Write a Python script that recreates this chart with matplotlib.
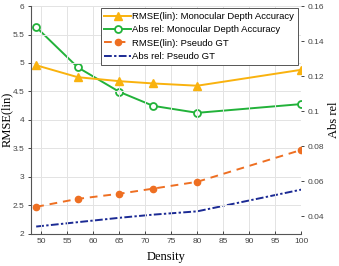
import numpy as np
import matplotlib.pyplot as plt

# Density values (x axis)
density = [49, 57, 65, 71.5, 80, 100]

# Monocular depth accuracy
rmse_mono = [4.96, 4.75, 4.68, 4.64, 4.60, 4.88]
absrel_mono = [0.148, 0.125, 0.111, 0.103, 0.099, 0.104]

# Pseudo GT
rmse_pgt = [2.47, 2.61, 2.70, 2.79, 2.91, 3.47]
absrel_pgt = [0.034, 0.0365, 0.039, 0.0408, 0.0427, 0.0551]

labels = ["RMSE(lin): Monocular Depth Accuracy", "Abs rel: Monocular Depth Accuracy",
          "RMSE(lin): Pseudo GT", "Abs rel: Pseudo GT"]

c_tri = '#F9B20E'
c_green = '#22B23A'
c_orange = '#EE6F22'
c_navy = '#1B2A94'
tick_col = '#444444'

plt.rcParams['font.family'] = 'Liberation Sans'

fig = plt.figure(figsize=(3.39, 2.66), dpi=100)
ax = fig.add_axes([0.0914, 0.122, 0.797, 0.855])
ax2 = ax.twinx()

l1, = ax.plot(density, rmse_mono, '-^', color=c_tri, lw=1.4, ms=6, label=labels[0])
l2, = ax2.plot(density, absrel_mono, '-o', color=c_green, lw=1.4, ms=5,
               mfc='white', mew=1.3, label=labels[1])
l3, = ax.plot(density, rmse_pgt, '--o', color=c_orange, lw=1.4, ms=4.5,
              dashes=(4, 3), label=labels[2])
l4, = ax2.plot(density, absrel_pgt, '-.', color=c_navy, lw=1.4,
               dashes=(4, 1.2, 1.2, 1.2), label=labels[3])

ax.set_xlim(48, 100)
ax.set_ylim(2, 6)
ax2.set_ylim(0.03, 0.16)
ax.set_xticks(np.arange(50, 101, 5))
ax.set_yticks(np.arange(2, 6.01, 0.5))
ax.set_yticklabels(['2', '2.5', '3', '3.5', '4', '4.5', '5', '5.5', '6'])
ax2.set_yticks([0.04, 0.06, 0.08, 0.10, 0.12, 0.14, 0.16])
ax2.set_yticklabels(['0.04', '0.06', '0.08', '0.1', '0.12', '0.14', '0.16'])

ax.grid(True, color='#e3e3e3', lw=0.7)
ax.set_axisbelow(True)

for a in (ax, ax2):
    a.spines['top'].set_visible(False)
    a.spines['right'].set_visible(False)
    a.spines['left'].set_visible(a is ax)
    a.spines['bottom'].set_visible(a is ax)
ax.spines['left'].set_color('#555555')
ax.spines['bottom'].set_color('#555555')

ax.tick_params(axis='both', labelsize=6, colors=tick_col, length=2.5, width=0.7, pad=2.2)
ax.tick_params(axis='x', direction='in', pad=3)
ax2.tick_params(axis='y', labelsize=6, colors=tick_col, length=2.5, width=0.7, pad=2)

ax.set_xlabel('Density', family='Liberation Serif', fontsize=9)
ax.xaxis.set_label_coords(0.5, -0.075)
ax.set_ylabel('RMSE(lin)', family='Liberation Serif', fontsize=9)
ax.yaxis.set_label_coords(-0.066, 0.5)
ax2.set_ylabel('Abs rel', family='Liberation Serif', fontsize=9)
ax2.yaxis.set_label_coords(1.1, 0.5)

leg = ax.legend(handles=[l1, l2, l3, l4], loc='upper right', bbox_to_anchor=(0.988, 0.99),
                borderaxespad=0, fontsize=6.8, handlelength=2.8, handletextpad=0.15,
                labelspacing=0.45, borderpad=0.4, fancybox=False, framealpha=1,
                edgecolor='#555555')
leg.get_frame().set_linewidth(0.7)
leg.set_zorder(10)
ax.set_zorder(ax2.get_zorder() + 1)
ax.patch.set_visible(False)

fig.savefig('out.png', dpi=100)
